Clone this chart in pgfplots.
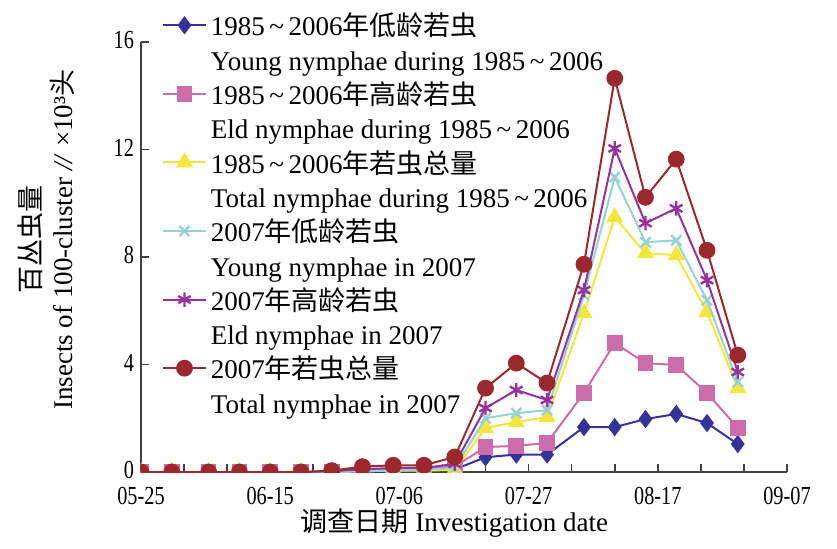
\documentclass[border=0pt]{standalone}
\usepackage{fontspec}
\setmainfont{Liberation Serif}
\newfontfamily\cjk{Noto Sans CJK SC}
\newfontfamily\cond[FakeStretch=0.78]{Liberation Serif}
\usepackage{pgfplots}
\pgfplotsset{compat=1.18}
\definecolor{cblue}{RGB}{51,51,153}
\definecolor{cpink}{RGB}{204,108,170}
\definecolor{cyel}{RGB}{245,230,60}
\definecolor{ccyan}{RGB}{150,210,210}
\definecolor{cpurp}{RGB}{150,50,160}
\definecolor{cred}{RGB}{155,40,45}
\newcommand{\tl}{\,\textasciitilde\,}
\newcommand{\two}[2]{\begin{tabular}[t]{@{}l@{}}#1\\#2\end{tabular}}
\begin{document}
\begin{tikzpicture}
\begin{axis}[
  scale only axis, width=323pt, height=215pt,
  xmin=0, xmax=105, ymin=0, ymax=16,
  axis x line=bottom, axis y line=left,
  axis line style={-, black!75, line width=0.8pt},
  xtick={0,21,42,63,84,105},
  xticklabels={05-25,06-15,07-06,07-27,08-17,09-07},
  minor x tick num=2,
  ytick={0,4,8,12,16},
  tick align=inside,
  major tick length=4pt, minor tick length=4pt,
  tick style={black!75, line width=0.8pt},
  tick label style={font=\cond\fontsize{13}{15}\selectfont},
  xticklabel style={yshift=-4pt},
  yticklabel style={yshift=1pt},
  /pgf/number format/assume math mode=true,
  label style={font=\fontsize{13.5}{16}\selectfont},
  xlabel={{\cjk 调查日期} Investigation date},
  xlabel style={at={(axis description cs:0.485,0)}, anchor=center, yshift=-25.5pt},
  ylabel={{\cjk 百丛虫量}\\Insects of 100-cluster \textit{//} ×10³{\cjk 头}},
  ylabel style={align=center, at={(axis description cs:-0.147,0.54)}, anchor=center},
  clip marker paths=true,
  every axis plot/.append style={line width=1pt},
  legend cell align=left,
  legend image code/.code={\draw[yshift=10.5pt,mark repeat=2,mark phase=2,#1] plot coordinates {(0pt,0pt) (10.75pt,0pt) (21.5pt,0pt)};},
  legend style={at={(axis description cs:0.0325,1.07)}, anchor=north west, draw=none, fill=none,
    inner sep=0pt, outer sep=0pt, font=\fontsize{13.5}{17.15}\selectfont, row sep=0pt, column sep=2pt,
    nodes={inner sep=0pt, text height=12pt, text depth=22.3pt}},
]
\addplot[cblue, mark=diamond*, mark size=3.8pt] coordinates {
(0,0)(5,0)(11,0)(16,0)(21,0)(26,0)(31,0)(36,0.02)(41,0.05)(46,0.08)(51,0.1)(56,0.55)(61,0.65)(66,0.65)(72,1.67)(77,1.67)(82,1.97)(87,2.16)(92,1.82)(97,1.04)};
\addlegendentry{\two{1985\tl 2006{\cjk 年低龄若虫}}{Young nymphae during 1985\tl 2006}}
\addplot[cpink, mark=square*, mark size=3.4pt] coordinates {
(0,0)(5,0)(11,0)(16,0)(21,0)(26,0)(31,0)(36,0.05)(41,0.1)(46,0.12)(51,0.2)(56,0.93)(61,0.97)(66,1.08)(72,2.94)(77,4.8)(82,4.05)(87,3.98)(92,2.94)(97,1.64)};
\addlegendentry{\two{1985\tl 2006{\cjk 年高龄若虫}}{Eld nymphae during 1985\tl 2006}}
\addplot[cyel, mark=triangle*, mark size=4pt] coordinates {
(0,0)(5,0)(11,0)(16,0)(21,0)(26,0)(31,0)(36,0.03)(41,0.05)(46,0.05)(51,0.08)(56,1.64)(61,1.86)(66,2.04)(72,5.91)(77,9.48)(82,8.14)(87,8.07)(92,5.95)(97,3.12)};
\addlegendentry{\two{1985\tl 2006{\cjk 年若虫总量}}{Total nymphae during 1985\tl 2006}}
\addplot[ccyan, mark=x, mark size=3.6pt, mark options={line width=1.2pt}] coordinates {
(0,0)(5,0)(11,0)(16,0)(21,0)(26,0)(31,0)(36,0.03)(41,0.05)(46,0.08)(51,0.15)(56,2.0)(61,2.19)(66,2.3)(72,6.58)(77,10.97)(82,8.55)(87,8.62)(92,6.39)(97,3.35)};
\addlegendentry{\two{2007{\cjk 年低龄若虫}}{Young nymphae in 2007}}
\addplot[cpurp, mark=asterisk, mark size=3.6pt, mark options={line width=1.2pt}] coordinates {
(0,0)(5,0)(11,0)(16,0)(21,0)(26,0)(31,0.03)(36,0.1)(41,0.15)(46,0.15)(51,0.3)(56,2.38)(61,3.05)(66,2.68)(72,6.77)(77,12.04)(82,9.26)(87,9.81)(92,7.14)(97,3.72)};
\addlegendentry{\two{2007{\cjk 年高龄若虫}}{Eld nymphae in 2007}}
\addplot[cred, mark=*, mark size=3.7pt] coordinates {
(0,0)(5,0)(11,0)(16,0)(21,0)(26,0)(31,0.05)(36,0.2)(41,0.25)(46,0.25)(51,0.56)(56,3.12)(61,4.05)(66,3.31)(72,7.73)(77,14.65)(82,10.22)(87,11.64)(92,8.25)(97,4.35)};
\addlegendentry{\two{2007{\cjk 年若虫总量}}{Total nymphae in 2007}}
\end{axis}
\pgfresetboundingbox
\path (current axis.south west) ++(-70.5pt,-38pt) rectangle ++(418.5pt,274pt);
\end{tikzpicture}
\end{document}
